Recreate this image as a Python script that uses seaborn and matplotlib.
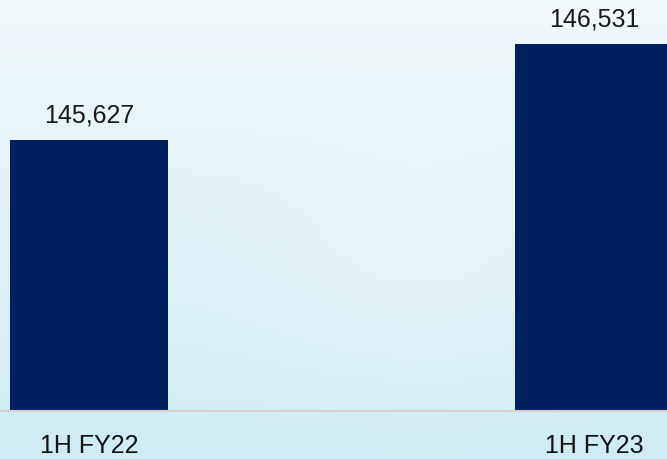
import numpy as np
import matplotlib
matplotlib.use("Agg")
import matplotlib.pyplot as plt
import seaborn as sns
import pandas as pd

categories = ["1H FY22", "1H FY23"]
values = [145627, 146531]
value_labels = ["145,627", "146,531"]

sns.set_theme(style="white")
plt.rcParams["font.family"] = ["Liberation Sans", "DejaVu Sans"]

W, H, DPI = 667, 460, 100
fig = plt.figure(figsize=(W / DPI, H / DPI), dpi=DPI)

# background gradient
bg = fig.add_axes([0, 0, 1, 1], zorder=0)
yy, xx = np.mgrid[0:H, 0:W]
t = yy / H
top = np.array([0xf1, 0xf9, 0xfc]) / 255
bot = np.array([0xd0, 0xeb, 0xf3]) / 255
img = top[None, None, :] * (1 - t[..., None]) + bot[None, None, :] * t[..., None]
glow = np.exp(-(((xx - 420) / 160) ** 2 + ((yy - 265) / 110) ** 2))
img = img + (1 - img) * 0.25 * glow[..., None]
bg.imshow(np.clip(img, 0, 1), aspect="auto", extent=[0, 1, 0, 1])
bg.axis("off")

# main axes: bottom at pixel 412
ax = fig.add_axes([0, (H - 412) / H, 1, 412 / H], zorder=1)
ax.patch.set_alpha(0)

df = pd.DataFrame({"cat": categories, "val": values})
sns.barplot(data=df, x="cat", y="val", color="#002060", saturation=1,
            width=0.313, linewidth=0, edgecolor="none", ax=ax)

ax.set_xlim(-0.176, 1.1446)
ax.set_ylim(143075, 146960)

for c in ax.containers:
    ax.bar_label(c, labels=value_labels, padding=10, fontsize=18, color="#1a1a1a")

for s in ["top", "right", "left"]:
    ax.spines[s].set_visible(False)
ax.spines["bottom"].set_color("#d8cfcf")
ax.spines["bottom"].set_linewidth(1.5)
ax.set_yticks([])
ax.set_xlabel("")
ax.set_ylabel("")
ax.tick_params(axis="x", length=0, pad=16, labelsize=18, labelcolor="#111111")

fig.savefig("out.png", dpi=DPI)
